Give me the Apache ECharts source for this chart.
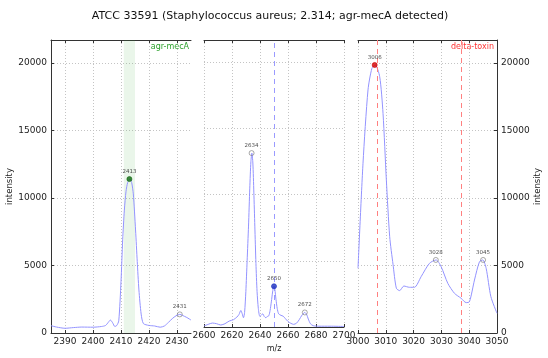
<!DOCTYPE html>
<html>
<head>
<meta charset="utf-8">
<script src="https://cdn.jsdelivr.net/npm/echarts@6/dist/echarts.min.js"></script>
<style>html,body{margin:0;padding:0;background:#fff}#c{width:548px;height:358px}</style>
</head>
<body>
<div id="c"></div>
<script>
// ---- data ----
var titleText = 'ATCC 33591 (Staphylococcus aureus; 2.314; agr-mecA detected)';
var yTicks = [0, 5000, 10000, 15000, 20000];
var xTicks1 = [2390, 2400, 2410, 2420, 2430];
var xTicks2 = [2600, 2620, 2640, 2660, 2680, 2700];
var xTicks3 = [3000, 3010, 3020, 3030, 3040, 3050];

var mz1 = [2385, 2387, 2390, 2393, 2396, 2400, 2403, 2404.5, 2405.5, 2406.2, 2407, 2407.8, 2408.5, 2409.2, 2410, 2410.6, 2411.2, 2411.8, 2412.4, 2413.2, 2413.8, 2414.4, 2415.2, 2415.8, 2416.4, 2417.2, 2418, 2420, 2422, 2424, 2425.5, 2427, 2428.5, 2430, 2431, 2432, 2433.5, 2435];
var int1 = [540, 440, 350, 400, 440, 430, 480, 560, 800, 960, 760, 480, 560, 900, 3800, 6900, 9100, 10500, 11150, 11400, 11150, 10300, 7630, 5300, 3185, 1400, 700, 560, 520, 430, 520, 800, 1100, 1320, 1380, 1300, 1150, 960];

var mz2 = [2600, 2603, 2606, 2609, 2612, 2615, 2618, 2621, 2623.5, 2625, 2626.3, 2627.3, 2628.2, 2629, 2629.9, 2630.8, 2631.8, 2632.7, 2633.5, 2634.2, 2634.9, 2635.6, 2636.3, 2637.1, 2637.9, 2638.8, 2639.9, 2641, 2642, 2643, 2644.2, 2645.3, 2646.3, 2647.2, 2648.1, 2649, 2649.8, 2650.6, 2651.4, 2652.3, 2653.3, 2655, 2656.5, 2658, 2660, 2662, 2664, 2666, 2668, 2670, 2672, 2673.3, 2674.5, 2676, 2678, 2682, 2690, 2700];
var int2 = [80, 200, 300, 250, 150, 250, 450, 550, 750, 950, 1250, 1000, 700, 1100, 2690, 5000, 7630, 10500, 12500, 13150, 12400, 10200, 7630, 4800, 2690, 1400, 800, 900, 1000, 800, 700, 800, 850, 1250, 1900, 2650, 3080, 2850, 2100, 1400, 1000, 880, 820, 650, 420, 280, 200, 280, 550, 900, 1100, 950, 600, 250, 100, 60, 60, 40];

var mz3 = [3000, 3001.8, 3003.6, 3005, 3006.2, 3007.8, 3009, 3010.2, 3011.4, 3012.6, 3013.8, 3015, 3016.5, 3018.5, 3020.3, 3022.7, 3025.7, 3028.1, 3029.9, 3032.3, 3034.7, 3037.1, 3038.9, 3040.1, 3041.9, 3043.7, 3044.9, 3046.1, 3047.8, 3050];
var int3 = [4790, 12570, 18000, 19600, 19850, 18990, 16270, 11330, 7130, 5090, 3310, 3140, 3480, 3385, 3385, 4170, 5160, 5410, 4910, 3680, 2940, 2570, 2250, 2320, 3925, 5280, 5410, 4790, 2690, 1460];

var peaks1 = [[2413, 11400, 'match'], [2431, 1380, 'open']];
var peaks2 = [[2634, 13150, 'open'], [2650, 3080, 'match'], [2672, 1100, 'open']];
var peaks3 = [[3006, 19850, 'match'], [3028, 5410, 'open'], [3045, 5410, 'open']];

var band1 = [2411, 2415];
var refLine2 = [2650];
var refLines3 = [3007, 3037];
var label1 = 'agr-mecA';
var label3 = 'delta-toxin';
var yName = 'intensity';
var xName = 'm/z';

// ---- chart ----
var chart = echarts.init(document.getElementById('c'), null, {renderer: 'canvas'});
var FONT = 'DejaVu Sans';
var lineColor = '#9393ff';
var spine = '#333';
var gridLine = {show: true, lineStyle: {color: '#c4c4c4', type: [1, 2], width: 1}};
var plain = function (v) { return String(v); };

function zip(a, b) { return a.map(function (v, i) { return [v, b[i]]; }); }

var grids = [
  {left: 51, top: 40, width: 140, height: 293},
  {left: 204, top: 40, width: 140, height: 293},
  {left: 358, top: 40, width: 139, height: 293}
];
var ranges = [[2385, 2435, xTicks1], [2600, 2700, xTicks2], [3000, 3050, xTicks3]];

var xAxes = [];
ranges.forEach(function (r, i) {
  xAxes.push({
    type: 'value', gridIndex: i, min: r[0], max: r[1], position: 'bottom',
    name: i === 1 ? xName : '', nameLocation: 'middle', nameGap: 18,
    nameTextStyle: {fontFamily: FONT, fontSize: 8, color: '#222'},
    axisLine: {show: true, lineStyle: {color: spine, width: 1}},
    axisTick: {show: true, inside: true, length: 3, lineStyle: {color: spine}, customValues: r[2]},
    axisLabel: {show: true, fontFamily: FONT, fontSize: 9, color: '#222', margin: 4, customValues: r[2],
      formatter: plain, showMinLabel: true, showMaxLabel: true, hideOverlap: false},
    splitLine: gridLine
  });
});
ranges.forEach(function (r, i) {
  xAxes.push({
    type: 'value', gridIndex: i, min: r[0], max: r[1], position: 'top',
    axisLine: {show: true, lineStyle: {color: spine, width: 1}},
    axisTick: {show: true, inside: true, length: 3, lineStyle: {color: spine}, customValues: r[2]},
    axisLabel: {show: false}, splitLine: {show: false}
  });
});

var yAxes = [0, 1, 2].map(function (i) {
  return {
    type: 'value', gridIndex: i, min: 0, max: 21700, interval: 5000,
    position: i === 2 ? 'right' : 'left',
    name: i === 1 ? '' : yName, nameLocation: 'middle', nameGap: 31, nameRotate: 90,
    nameTextStyle: {fontFamily: FONT, fontSize: 8.5, color: '#222'},
    axisLine: {show: i !== 1, lineStyle: {color: spine, width: 1}},
    axisTick: {show: i !== 1, inside: true, length: 3, lineStyle: {color: spine}},
    axisLabel: {show: i !== 1, fontFamily: FONT, fontSize: 9, color: '#222', margin: 4,
      customValues: yTicks, formatter: plain},
    splitLine: gridLine
  };
});

function peakSeries(idx, peaks, matchColor) {
  return {
    type: 'scatter', xAxisIndex: idx, yAxisIndex: idx, z: 5,
    data: peaks.map(function (p) {
      var m = p[2] === 'match';
      return {
        value: [p[0], p[1]],
        symbol: 'circle', symbolSize: 5,
        itemStyle: m ? {color: matchColor, borderColor: matchColor, borderWidth: 0.8}
                     : {color: 'rgba(255,255,255,0)', borderColor: '#666', borderWidth: 0.7},
        label: {show: true, position: 'top', distance: 2, formatter: String(p[0]),
          fontFamily: FONT, fontSize: 5.5, color: '#222'}
      };
    })
  };
}

var series = [
  {
    type: 'line', xAxisIndex: 0, yAxisIndex: 0, data: zip(mz1, int1), smooth: 0.25,
    symbol: 'none', lineStyle: {color: lineColor, width: 1}, z: 3,
    markArea: {silent: true, itemStyle: {color: 'rgba(60,170,60,0.11)'},
      data: [[{xAxis: band1[0]}, {xAxis: band1[1]}]]}
  },
  {
    type: 'line', xAxisIndex: 1, yAxisIndex: 1, data: zip(mz2, int2), smooth: 0.25,
    symbol: 'none', lineStyle: {color: lineColor, width: 1}, z: 3,
    markLine: {silent: true, symbol: 'none', label: {show: false},
      lineStyle: {color: '#9a9aff', type: [5, 4], width: 1},
      data: refLine2.map(function (v) { return {xAxis: v}; })}
  },
  {
    type: 'line', xAxisIndex: 2, yAxisIndex: 2, data: zip(mz3, int3), smooth: 0.25,
    symbol: 'none', lineStyle: {color: lineColor, width: 1}, z: 3,
    markLine: {silent: true, symbol: 'none', label: {show: false},
      lineStyle: {color: '#ff8080', type: [5, 4], width: 1},
      data: refLines3.map(function (v) { return {xAxis: v}; })}
  },
  peakSeries(0, peaks1, '#0f6a0f'),
  peakSeries(1, peaks2, '#1c2fc0'),
  peakSeries(2, peaks3, '#d40000')
];

chart.setOption({
  animation: false,
  grid: grids,
  xAxis: xAxes,
  yAxis: yAxes,
  series: series,
  graphic: [
    {type: 'text', x: 0, y: 0, style: {text: titleText, x: 270, y: 16, fontFamily: FONT, fontSize: 11,
      fill: '#111', align: 'center', verticalAlign: 'middle'}},
    {type: 'text', x: 0, y: 0, style: {text: label1, x: 189, y: 47, fontFamily: FONT, fontSize: 8,
      fill: '#2ca02c', align: 'right', verticalAlign: 'middle'}},
    {type: 'text', x: 0, y: 0, style: {text: label3, x: 494, y: 47, fontFamily: FONT, fontSize: 8,
      fill: '#ff3333', align: 'right', verticalAlign: 'middle'}}
  ]
});
</script>
</body>
</html>
